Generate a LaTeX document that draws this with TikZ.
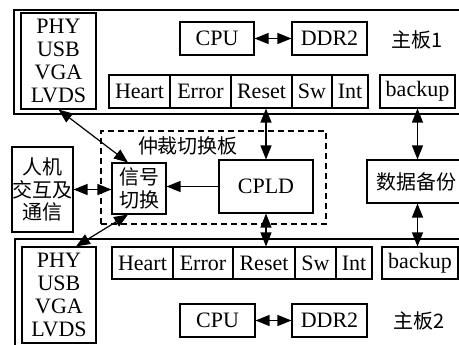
\documentclass[tikz,border=0pt]{standalone}
\usepackage{fontspec}
\setmainfont{Liberation Serif}
\newfontfamily\cjk{Noto Sans CJK SC}
\usetikzlibrary{arrows.meta}

\begin{document}
\begin{tikzpicture}[x=1pt,y=-1pt,
  box/.style={draw,line width=1.1pt,inner sep=0pt,align=center,font=\fontsize{22}{23}\selectfont},
  cn/.style={font=\cjk\fontsize{20}{22.5}\selectfont},
  link/.style={line width=1.2pt,{Triangle[length=14pt,width=11pt]}-{Triangle[length=14pt,width=11pt]}},
  onelink/.style={line width=1.2pt,-{Triangle[length=14pt,width=11pt]}}]
\useasboundingbox (0,0) rectangle (459,345);
% Board 1 frame, open to the right
\draw[line width=1.3pt] (459,10) -- (14,10) -- (14,114) -- (459,114);
\node[box,minimum width=75pt,minimum height=96pt] (phyA) at (58.5,61) {PHY\\USB\\VGA\\LVDS};
\node[box,minimum width=74pt,minimum height=33pt] (cpuA) at (217,38.5) {CPU};
\node[box,minimum width=75pt,minimum height=33pt] (ddrA) at (329.5,38.5) {DDR2};
\node[cn] (lblA) at (417,40) {主板1};
% Board 1 signal row
\node[box,minimum width=61pt,minimum height=33pt] (heartA) at (139.5,91.5) {Heart};
\node[box,minimum width=61pt,minimum height=33pt] (errorA) at (200.5,91.5) {Error};
\node[box,minimum width=61pt,minimum height=33pt] (resetA) at (261.5,91.5) {Reset};
\node[box,minimum width=40pt,minimum height=33pt] (swA) at (312,91.5) {Sw};
\node[box,minimum width=36pt,minimum height=33pt] (intA) at (350,91.5) {Int};
\node[box,minimum width=75pt,minimum height=33pt] (backupA) at (417.5,91.5) {backup};

% Arbitration board
\node[draw,dashed,dash pattern=on 6pt off 4pt,line width=1.1pt,minimum width=225pt,minimum height=93pt] (arb) at (213.5,177.5) {};
\node[cn] (arbLbl) at (188,146) {仲裁切换板};
\node[box,cn,minimum width=54pt,minimum height=51pt] (sigSw) at (139,188.5) {信号\\切换};
\node[box,minimum width=94pt,minimum height=53pt] (cpld) at (266,186.5) {CPLD};
\node[box,cn,minimum width=61pt,minimum height=85pt] (hmi) at (42.5,189.5) {人机\\交互及\\通信};
\node[box,cn,minimum width=98pt,minimum height=43pt] (data) at (416,181.5) {数据备份};

% Board 2 frame, open to the right and below
\draw[line width=1.3pt] (459,239) -- (15,239) -- (15,345);
\node[box,minimum width=74pt,minimum height=96pt] (phyB) at (59,295) {PHY\\USB\\VGA\\LVDS};
\node[box,minimum width=61pt,minimum height=32pt] (heartB) at (142.5,263) {Heart};
\node[box,minimum width=60pt,minimum height=32pt] (errorB) at (203,263) {Error};
\node[box,minimum width=62pt,minimum height=32pt] (resetB) at (264,263) {Reset};
\node[box,minimum width=41pt,minimum height=32pt] (swB) at (315.5,263) {Sw};
\node[box,minimum width=36pt,minimum height=32pt] (intB) at (354,263) {Int};
\node[box,minimum width=76pt,minimum height=32pt] (backupB) at (420,263) {backup};
\node[box,minimum width=75pt,minimum height=33pt] (cpuB) at (217.5,320.5) {CPU};
\node[box,minimum width=75pt,minimum height=33pt] (ddrB) at (329.5,320.5) {DDR2};
\node[cn] (lblB) at (419,321) {主板2};

% Links
\draw[link] (cpuA) -- (ddrA);
\draw[link] (cpuB) -- (ddrB);
\draw[link] (phyA.south) -- ([xshift=-11pt]sigSw.north);
\draw[link] ([xshift=-11pt]sigSw.south) -- ([xshift=17pt]phyB.north);
\draw[link] (hmi.east) -- (hmi.east -| sigSw.west);
\draw[onelink] (cpld.west) -- (cpld.west -| sigSw.east);
\draw[link] (cpld.north) -- (cpld.north |- resetA.south);
\draw[link] (cpld.south) -- (cpld.south |- resetB.north);
\draw[link] (backupA.south) -- (backupA.south |- data.north);
\draw[link] (backupA.south |- data.south) -- (backupA.south |- backupB.north);
\end{tikzpicture}
\end{document}
